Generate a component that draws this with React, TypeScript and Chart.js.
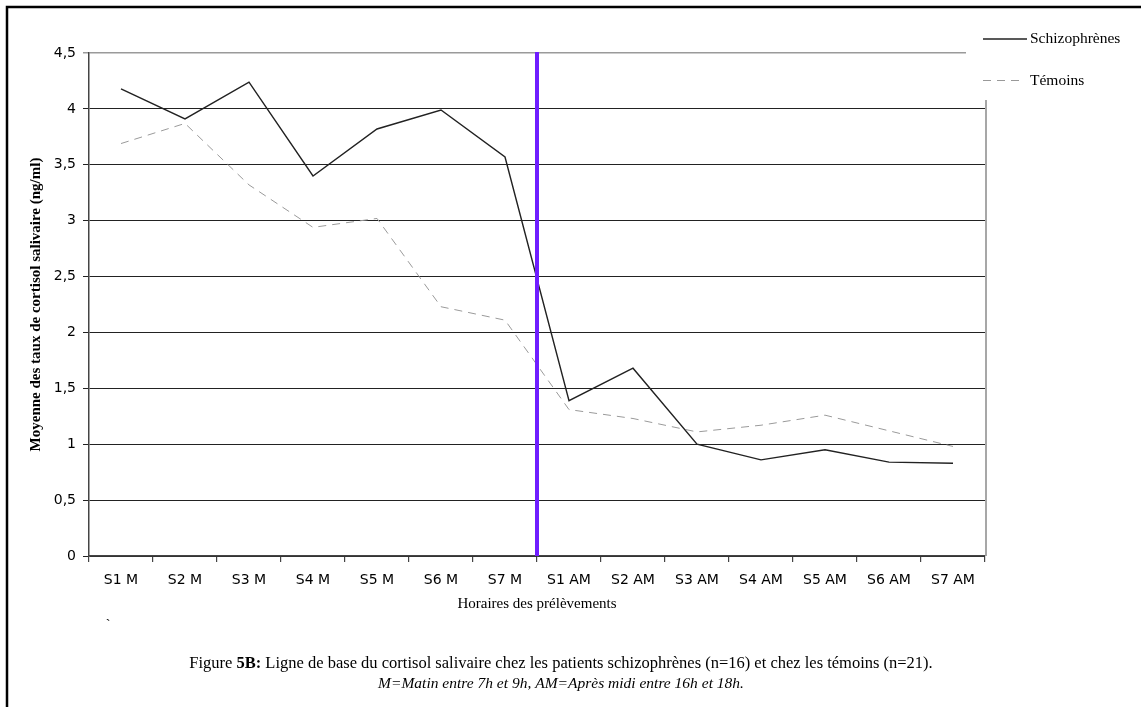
import React, { useEffect, useRef } from "react";
import { Chart, registerables } from "chart.js";

Chart.register(...registerables);

const categories = ["S1 M", "S2 M", "S3 M", "S4 M", "S5 M", "S6 M", "S7 M", "S1 AM", "S2 AM", "S3 AM", "S4 AM", "S5 AM", "S6 AM", "S7 AM"];
const schizophrenes = [4.18, 3.91, 4.24, 3.4, 3.82, 3.99, 3.57, 1.39, 1.68, 1.0, 0.86, 0.95, 0.84, 0.83];
const temoins = [3.69, 3.87, 3.32, 2.94, 3.02, 2.23, 2.11, 1.31, 1.23, 1.11, 1.17, 1.26, 1.12, 0.98];
const yTicks = [0, 0.5, 1, 1.5, 2, 2.5, 3, 3.5, 4, 4.5];
const seriesNames = ["Schizophrènes", "Témoins"];
const yTitle = "Moyenne des taux de cortisol salivaire (ng/ml)";
const xTitle = "Horaires des prélèvements";
const captionRuns1 = [
  { t: "Figure ", w: "normal", s: "normal" },
  { t: "5B:", w: "bold", s: "normal" },
  { t: " Ligne de base du cortisol salivaire chez les patients schizophrènes (n=16) et chez les témoins (n=21).", w: "normal", s: "normal" },
];
const caption2 = "M=Matin entre 7h et 9h, AM=Après midi entre 16h et 18h.";
const splitIndex = 6; // last morning sample

const SERIF = "'Liberation Serif', 'Times New Roman', serif";
const SANS = "'DejaVu Sans', Verdana, sans-serif";

const overlay = {
  id: "overlay",
  afterDraw(chart: any) {
    const ctx = chart.ctx;
    const xs = chart.scales.x;
    const ys = chart.scales.y;
    const area = chart.chartArea;
    ctx.save();

    // right border of plot area
    ctx.strokeStyle = "#8a8a8a";
    ctx.lineWidth = 1.5;
    ctx.beginPath();
    ctx.moveTo(area.right + 1, ys.getPixelForValue(4.5));
    ctx.lineTo(area.right + 1, ys.getPixelForValue(0));
    ctx.stroke();

    // purple separator
    const px = (xs.getPixelForValue(splitIndex) + xs.getPixelForValue(splitIndex + 1)) / 2;
    ctx.strokeStyle = "#6f1dff";
    ctx.lineWidth = 4;
    ctx.beginPath();
    ctx.moveTo(px, ys.getPixelForValue(4.5) - 1);
    ctx.lineTo(px, ys.getPixelForValue(0));
    ctx.stroke();

    // legend box
    ctx.fillStyle = "#fff";
    ctx.fillRect(966, 12, 175, 88);
    ctx.strokeStyle = "#222";
    ctx.lineWidth = 1.3;
    ctx.setLineDash([]);
    ctx.beginPath();
    ctx.moveTo(983, 39);
    ctx.lineTo(1027, 39);
    ctx.stroke();
    ctx.strokeStyle = "#999";
    ctx.lineWidth = 1;
    ctx.setLineDash([8, 6]);
    ctx.beginPath();
    ctx.moveTo(983, 80.5);
    ctx.lineTo(1025, 80.5);
    ctx.stroke();
    ctx.setLineDash([]);
    ctx.fillStyle = "#000";
    ctx.font = `15.5px ${SERIF}`;
    ctx.textAlign = "left";
    ctx.textBaseline = "middle";
    ctx.fillText(seriesNames[0], 1030, 39);
    ctx.fillText(seriesNames[1], 1030, 81);

    // axis titles
    const midX = (area.left + area.right) / 2;
    ctx.font = `15px ${SERIF}`;
    ctx.textAlign = "center";
    ctx.fillText(xTitle, midX, 604);
    ctx.save();
    ctx.translate(36, (area.top + area.bottom) / 2);
    ctx.rotate(-Math.PI / 2);
    ctx.font = `bold 15px ${SERIF}`;
    ctx.fillText(yTitle, 0, 0);
    ctx.restore();

    // stray mark
    ctx.font = `14px ${SERIF}`;
    ctx.fillText("`", 108, 625);

    // caption line 1 (mixed runs)
    const size = 16.5;
    const fontFor = (r: any) => `${r.s === "italic" ? "italic " : ""}${r.w === "bold" ? "bold " : ""}${size}px ${SERIF}`;
    let total = 0;
    for (const r of captionRuns1) {
      ctx.font = fontFor(r);
      total += ctx.measureText(r.t).width;
    }
    let x = 561 - total / 2;
    ctx.textAlign = "left";
    for (const r of captionRuns1) {
      ctx.font = fontFor(r);
      ctx.fillText(r.t, x, 664);
      x += ctx.measureText(r.t).width;
    }
    ctx.font = `italic 15.5px ${SERIF}`;
    ctx.textAlign = "center";
    ctx.fillText(caption2, 561, 684);

    // outer frame
    ctx.strokeStyle = "#000";
    ctx.lineWidth = 2.5;
    ctx.beginPath();
    ctx.moveTo(7, 707);
    ctx.lineTo(7, 7);
    ctx.lineTo(1141, 7);
    ctx.stroke();

    ctx.restore();
  },
};

export default function App() {
  const ref = useRef<HTMLCanvasElement>(null);
  useEffect(() => {
    document.body.style.margin = "0";
    const canvas = ref.current!;
    const chart = new Chart(canvas, {
      type: "line",
      data: {
        labels: categories,
        datasets: [
          {
            label: seriesNames[0],
            data: schizophrenes,
            borderColor: "#222",
            borderWidth: 1.4,
            pointRadius: 0,
            tension: 0,
            fill: false,
          },
          {
            label: seriesNames[1],
            data: temoins,
            borderColor: "#9a9a9a",
            borderWidth: 1,
            borderDash: [8, 6],
            pointRadius: 0,
            tension: 0,
            fill: false,
          },
        ],
      },
      options: {
        responsive: false,
        animation: false,
        events: [],
        layout: { padding: { top: 53, right: 156, left: 0, bottom: 0 } },
        plugins: { legend: { display: false }, tooltip: { enabled: false } },
        scales: {
          x: {
            type: "category",
            offset: true,
            grid: { offset: true, drawOnChartArea: false, drawTicks: true, tickLength: 6, color: "#444", lineWidth: 1.2 },
            border: { color: "#444", width: 1.5 },
            ticks: { color: "#000", font: { family: SANS, size: 14 }, padding: 10, maxRotation: 0, autoSkip: false },
            afterFit: (s: any) => { s.height = 151; },
          },
          y: {
            min: 0,
            max: 4.5,
            afterBuildTicks: (s: any) => { s.ticks = yTicks.map((v) => ({ value: v })); },
            grid: {
              color: (c: any) => (c.tick && c.tick.value === 4.5 ? "#9a9a9a" : "#222"),
              lineWidth: (c: any) => (c.tick && c.tick.value === 4.5 ? 1.5 : 1),
              tickLength: 6,
              drawTicks: true,
            },
            border: { color: "#444", width: 1.5 },
            ticks: {
              color: "#000",
              font: { family: SANS, size: 14 },
              padding: 7,
              callback: (v: any) => String(v).replace(".", ","),
            },
            afterFit: (s: any) => { s.width = 89; },
          },
        },
      },
      plugins: [overlay],
    });
    return () => chart.destroy();
  }, []);
  return <canvas ref={ref} width={1141} height={707} style={{ display: "block" }} />;
}
